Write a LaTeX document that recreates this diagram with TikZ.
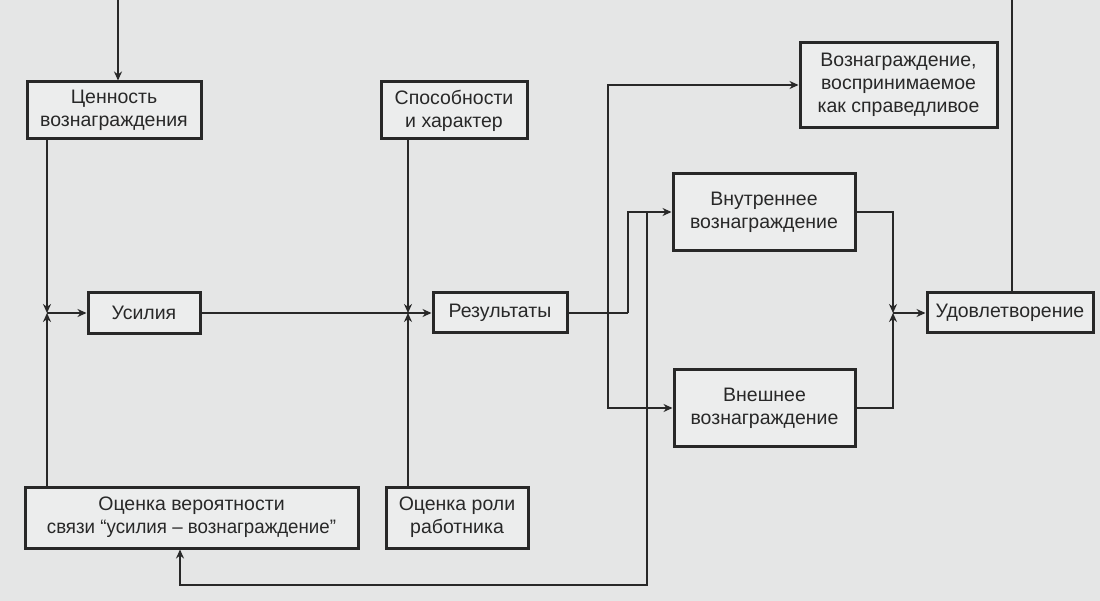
\documentclass[tikz,border=0pt]{standalone}
\usepackage{fontspec}
\setmainfont{Liberation Sans}
\usetikzlibrary{arrows.meta}
\definecolor{paper}{RGB}{229,230,230}
\definecolor{boxfill}{RGB}{236,237,237}
\definecolor{ink}{RGB}{40,40,40}

\begin{document}
\begin{tikzpicture}[x=1pt,y=-1pt,
  box/.style={draw=ink, line width=3pt, fill=boxfill, inner sep=0pt,
    align=center, text=ink, font=\fontsize{19.5}{23}\selectfont},
  link/.style={draw=ink, line width=2.6pt},
  arr/.style={link, -{Stealth[length=9pt,width=8pt]}}]

% page
\fill[paper] (0,0) rectangle (1100,601);
\useasboundingbox (0,0) rectangle (1100,601);

% blocks
\node[box, minimum width=174pt, minimum height=57pt] (val)  at (114,110.5) {Ценность\\вознаграждения};
\node[box, minimum width=146pt, minimum height=57pt] (abil) at (454,110.5) {Способности\\и характер};
\node[box, minimum width=197pt, minimum height=85pt] (equ)  at (898.5,85) {Вознаграждение,\\воспринимаемое\\как справедливое};
\node[box, minimum width=182pt, minimum height=77pt] (intr) at (764,212) {Внутреннее\\вознаграждение};
\node[box, minimum width=112pt, minimum height=41pt] (eff)  at (144,313) {Усилия};
\node[box, minimum width=134pt, minimum height=40pt] (perf) at (500,313) {Результаты};
\node[box, minimum width=181pt, minimum height=77pt] (extr) at (764.5,408) {Внешнее\\вознаграждение};
\node[box, minimum width=166pt, minimum height=40pt] (sat)  at (1010,313) {Удовлетворение};
\node[box, minimum width=333pt, minimum height=61pt] (prob) at (191.5,517.5) {Оценка вероятности\\\scalebox{0.96}[1]{связи “усилия – вознаграждение”}};
\node[box, minimum width=142pt, minimum height=61pt] (role) at (457,517.5) {Оценка роли\\работника};

% junction points and free ends
\coordinate (jeff)  at (47,313);
\coordinate (jperf) at (408,313);
\coordinate (jsat)  at (893,313);
\coordinate (fork)  at (628,313);
\coordinate (bus)   at (608,313);
\coordinate (fb)    at (647,212);
\coordinate (fbend) at (180,585);
\coordinate (intop) at (118,0);
\coordinate (sattop) at (1012,0);

% into the value of reward
\draw[arr] (intop) -- (intop |- val.north);

% effort inputs
\draw[arr] (val.south -| jeff) -- (jeff);
\draw[arr] (prob.north -| jeff) -- (jeff);
\draw[arr] (jeff) -- (eff.west);

% performance inputs
\draw[link] (eff.east) -- (jperf);
\draw[arr] (abil.south -| jperf) -- (jperf);
\draw[arr] (role.north -| jperf) -- (jperf);
\draw[arr] (jperf) -- (perf.west);

% rewards from performance
\draw[link] (perf.east) -- (fork);
\draw[arr] (fork) |- (intr.west);
\draw[arr] (bus) |- (equ.west);
\draw[arr] (bus) |- (extr.west);

% feedback to the probability estimate
\draw[arr] (fb) -- (fb |- fbend) -- (fbend) -- (prob.south -| fbend);

% satisfaction
\draw[arr] (intr.east) -| (jsat);
\draw[arr] (extr.east) -| (jsat);
\draw[arr] (jsat) -- (sat.west);
\draw[link] (sat.north -| sattop) -- (sattop);
\end{tikzpicture}
\end{document}
